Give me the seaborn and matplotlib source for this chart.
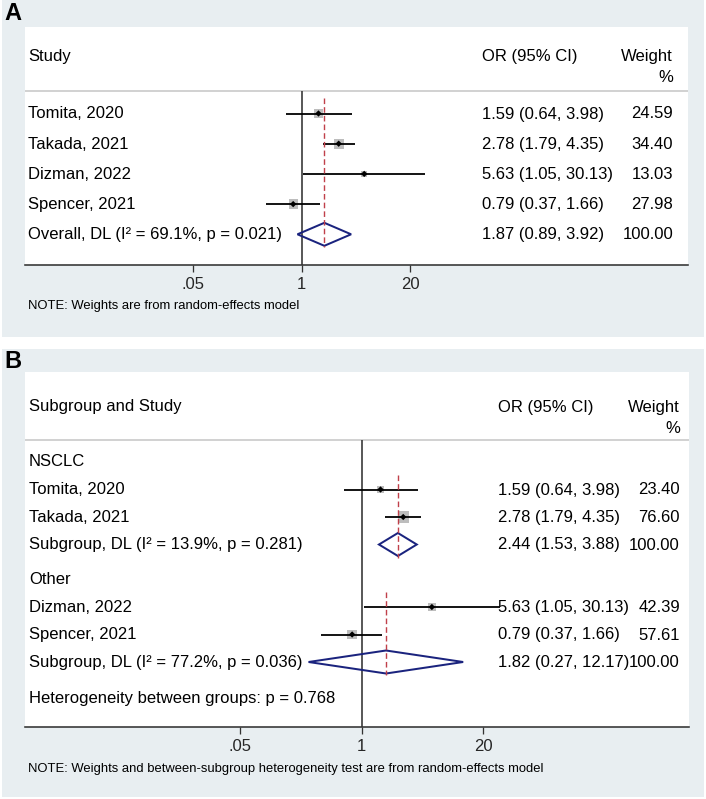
import numpy as np
import pandas as pd
import matplotlib
matplotlib.use("Agg")
import matplotlib.pyplot as plt
from matplotlib.patches import Rectangle
from matplotlib.ticker import NullLocator, FixedLocator, FixedFormatter
import seaborn as sns

# ---------------- data ----------------
studies_A = ["Tomita, 2020", "Takada, 2021", "Dizman, 2022", "Spencer, 2021"]
or_A = [1.59, 2.78, 5.63, 0.79]
lo_A = [0.64, 1.79, 1.05, 0.37]
hi_A = [3.98, 4.35, 30.13, 1.66]
w_A = [24.59, 34.40, 13.03, 27.98]
overall_A = [1.87, 0.89, 3.92]
overall_A_label = "Overall, DL (I² = 69.1%, p = 0.021)"

groups_B = ["NSCLC", "Other"]
studies_B = [["Tomita, 2020", "Takada, 2021"], ["Dizman, 2022", "Spencer, 2021"]]
or_B = [[1.59, 2.78], [5.63, 0.79]]
lo_B = [[0.64, 1.79], [1.05, 0.37]]
hi_B = [[3.98, 4.35], [30.13, 1.66]]
w_B = [[23.40, 76.60], [42.39, 57.61]]
sub_B = [[2.44, 1.53, 3.88], [1.82, 0.27, 12.17]]
sub_B_label = ["Subgroup, DL (I² = 13.9%, p = 0.281)", "Subgroup, DL (I² = 77.2%, p = 0.036)"]
het_B = "Heterogeneity between groups: p = 0.768"

tick_vals = [0.05, 1, 20]
tick_labels = [".05", "1", "20"]
note_A = "NOTE: Weights are from random-effects model"
note_B = "NOTE: Weights and between-subgroup heterogeneity test are from random-effects model"

# ---------------- style ----------------
sns.set_theme(style="white")
plt.rcParams["font.family"] = ["Liberation Sans", "DejaVu Sans"]

W, H, DPI = 706, 799, 100
GREY = "#E8EEF1"
NAVY = "#1A237E"
RED = "#C0404A"
SQ = "#BDBDBD"
PX = 72.0 / DPI  # points per pixel
FS = 12

fig = plt.figure(figsize=(W / DPI, H / DPI), dpi=DPI)
fig.patch.set_facecolor("white")


def T(px, py, s, ha="left", size=FS, **kw):
    fig.text(px / W, 1 - py / H, s, ha=ha, va="center", fontsize=size, color="black", **kw)


def make_axes(left, right, top, bottom, x_one, ppd):
    ax = fig.add_axes([left / W, 1 - bottom / H, (right - left) / W, (bottom - top) / H])
    ax.set_facecolor("white")
    ax.set_xscale("log")
    ax.set_xlim(10 ** ((left - x_one) / ppd), 10 ** ((right - x_one) / ppd))
    ax.set_ylim(bottom, top)
    for s in ["top", "left", "right"]:
        ax.spines[s].set_visible(False)
    ax.spines["bottom"].set_color("#333333")
    ax.spines["bottom"].set_linewidth(1.6 * PX)
    ax.xaxis.set_major_locator(FixedLocator(tick_vals))
    ax.xaxis.set_major_formatter(FixedFormatter(tick_labels))
    ax.xaxis.set_minor_locator(NullLocator())
    ax.tick_params(axis="x", direction="out", length=7 * PX, width=1.3 * PX,
                   color="#333333", labelsize=FS, pad=3.5, bottom=True)
    ax.set_yticks([])
    return ax


def draw_studies(ax, ors, los, his, ws, ys, k):
    ax.hlines(ys, los, his, color="black", lw=1.8 * PX, zorder=3)
    df = pd.DataFrame({"OR": ors, "y": ys})
    sizes = [(k * np.sqrt(w) * PX) ** 2 for w in ws]
    sns.scatterplot(data=df, x="OR", y="y", marker="s", s=sizes, color=SQ,
                    edgecolor="none", linewidth=0, legend=False, ax=ax, zorder=2)
    sns.scatterplot(data=df, x="OR", y="y", marker="D", s=(4.5 * PX) ** 2,
                    color="black", edgecolor="none", linewidth=0, legend=False, ax=ax, zorder=4)


def draw_diamond(ax, est, lo, hi, y, h=11.5):
    ax.fill([lo, est, hi, est, lo], [y, y - h, y, y + h, y], facecolor="none",
            edgecolor=NAVY, lw=2.0 * PX, zorder=4, joinstyle="miter")


def fmt_ci(o, l, h):
    return f"{o:.2f} ({l:.2f}, {h:.2f})"


# ---------------- Panel A ----------------
fig.add_artist(Rectangle((2 / W, 1 - 337 / H), 702 / W, 337 / H, transform=fig.transFigure,
                         facecolor=GREY, edgecolor="none", zorder=-5))
axA = make_axes(25, 688, 27, 265, 301.7, 83.3)
yA = 113.5 + 30.2 * np.arange(len(studies_A) + 1)
hdrA = 91
axA.axhline(hdrA, color="#C8C8C8", lw=1.6 * PX, zorder=1)
axA.vlines(1, hdrA, 265, color="#333333", lw=1.6 * PX, zorder=2)
axA.vlines(overall_A[0], yA[0] - 16, yA[-1] + 13, color=RED, lw=1.4 * PX,
           linestyles=(0, (4, 2.2)), zorder=5)
draw_studies(axA, or_A, lo_A, hi_A, w_A, yA[:-1], 1.75)
draw_diamond(axA, overall_A[0], overall_A[1], overall_A[2], yA[-1])
axA.set_xlabel("")
axA.set_ylabel("")

T(4, 14, "A", size=17, fontweight="bold")
T(28, 56, "Study")
T(482, 57, "OR (95% CI)")
T(673, 57, "Weight", ha="right")
T(673, 78, "%", ha="right")
for i, s in enumerate(studies_A):
    T(28, yA[i] + 0.5, s)
    T(482, yA[i] + 0.5, fmt_ci(or_A[i], lo_A[i], hi_A[i]))
    T(673, yA[i] + 0.5, f"{w_A[i]:.2f}", ha="right")
T(28, yA[-1] + 0.5, overall_A_label)
T(482, yA[-1] + 0.5, fmt_ci(*overall_A))
T(673, yA[-1] + 0.5, f"{100:.2f}", ha="right")
T(28, 306, note_A, size=9.4)

# ---------------- Panel B ----------------
fig.add_artist(Rectangle((2 / W, 1 - 797 / H), 702 / W, (797 - 349) / H, transform=fig.transFigure,
                         facecolor=GREY, edgecolor="none", zorder=-5))
axB = make_axes(25, 689, 372, 727, 361.7, 93.5)
hdrB = 440
axB.axhline(hdrB, color="#C8C8C8", lw=1.6 * PX, zorder=1)
axB.vlines(1, hdrB, 727, color="#333333", lw=1.6 * PX, zorder=2)

T(4, 361, "B", size=17, fontweight="bold")
T(29, 407, "Subgroup and Study")
T(498, 408, "OR (95% CI)")
T(680, 408, "Weight", ha="right")
T(680, 429, "%", ha="right")

dyB = 27.5
y = 462.0
for g in range(len(groups_B)):
    T(29, y, groups_B[g])
    ys = y + dyB * (1 + np.arange(len(studies_B[g])))
    ysub = ys[-1] + dyB
    axB.vlines(sub_B[g][0], ys[0] - 15, ysub + 13, color=RED, lw=1.4 * PX,
               linestyles=(0, (4, 2.2)), zorder=5)
    draw_studies(axB, or_B[g], lo_B[g], hi_B[g], w_B[g], ys, 1.3)
    draw_diamond(axB, sub_B[g][0], sub_B[g][1], sub_B[g][2], ysub)
    for i, s in enumerate(studies_B[g]):
        T(29, ys[i] + 0.5, s)
        T(498, ys[i] + 0.5, fmt_ci(or_B[g][i], lo_B[g][i], hi_B[g][i]))
        T(680, ys[i] + 0.5, f"{w_B[g][i]:.2f}", ha="right")
    T(29, ysub + 0.5, sub_B_label[g])
    T(498, ysub + 0.5, fmt_ci(*sub_B[g]))
    T(680, ysub + 0.5, f"{100:.2f}", ha="right")
    y = ysub + 35
T(29, y + 2, het_B)
axB.set_xlabel("")
axB.set_ylabel("")
T(28, 769, note_B, size=9.4)

fig.savefig("out.png", dpi=DPI, facecolor="white")
